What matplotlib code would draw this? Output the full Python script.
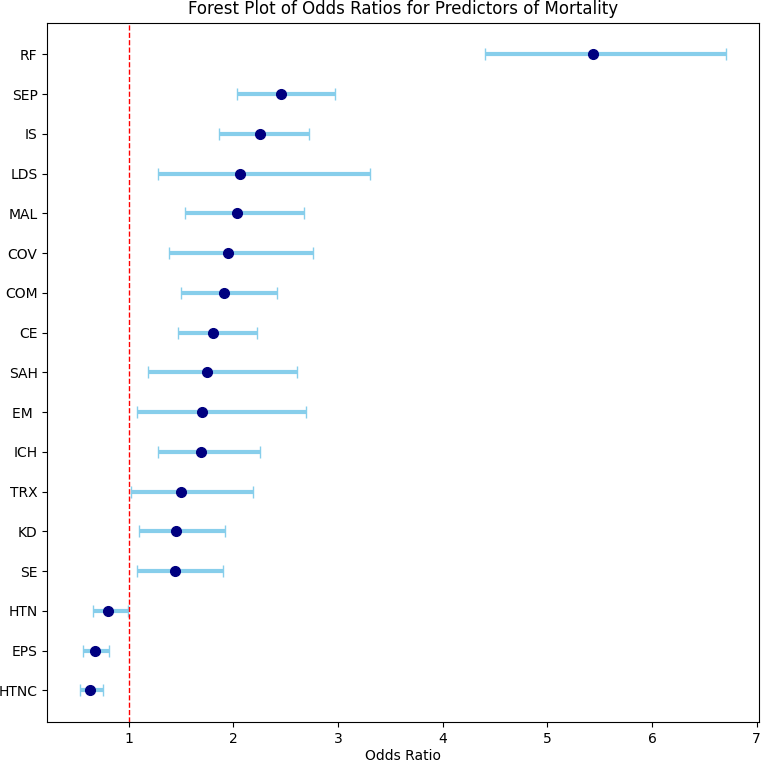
import matplotlib
matplotlib.use("Agg")
import matplotlib.pyplot as plt
import numpy as np

# Predicteurs (de haut en bas) et odds ratios avec IC 95 %
predicteurs = ["RF", "SEP", "IS", "LDS", "MAL", "COV", "COM", "CE", "SAH",
               "EM ", "ICH", "TRX", "KD", "SE", "HTN", "EPS", "HTNC"]
odds_ratio = [5.44, 2.45, 2.25, 2.06, 2.03, 1.95, 1.91, 1.80, 1.75,
              1.70, 1.69, 1.50, 1.45, 1.44, 0.80, 0.68, 0.63]
ic_bas = [4.40, 2.03, 1.86, 1.28, 1.54, 1.38, 1.50, 1.47, 1.18,
          1.08, 1.28, 1.02, 1.10, 1.08, 0.66, 0.56, 0.53]
ic_haut = [6.71, 2.97, 2.72, 3.30, 2.67, 2.76, 2.42, 2.22, 2.61,
           2.69, 2.25, 2.19, 1.92, 1.90, 0.99, 0.81, 0.75]

or_ = np.array(odds_ratio)
err = [or_ - np.array(ic_bas), np.array(ic_haut) - or_]
y = np.arange(len(predicteurs))[::-1]

fig = plt.figure(figsize=(7.62, 7.63), dpi=100)
ax = fig.add_axes([0.0621, 0.0535, 0.9336, 0.9170])

ax.errorbar(or_, y, xerr=err, fmt="o", color="navy", ecolor="skyblue",
            elinewidth=3, capsize=4.5, markersize=7)
ax.axvline(1, color="red", linestyle="--", linewidth=1)

ax.set_yticks(y)
ax.set_yticklabels(predicteurs)
ax.set_xlabel("Odds Ratio", labelpad=2)
ax.set_title("Forest Plot of Odds Ratios for Predictors of Mortality")

fig.savefig("out.png", dpi=100)
